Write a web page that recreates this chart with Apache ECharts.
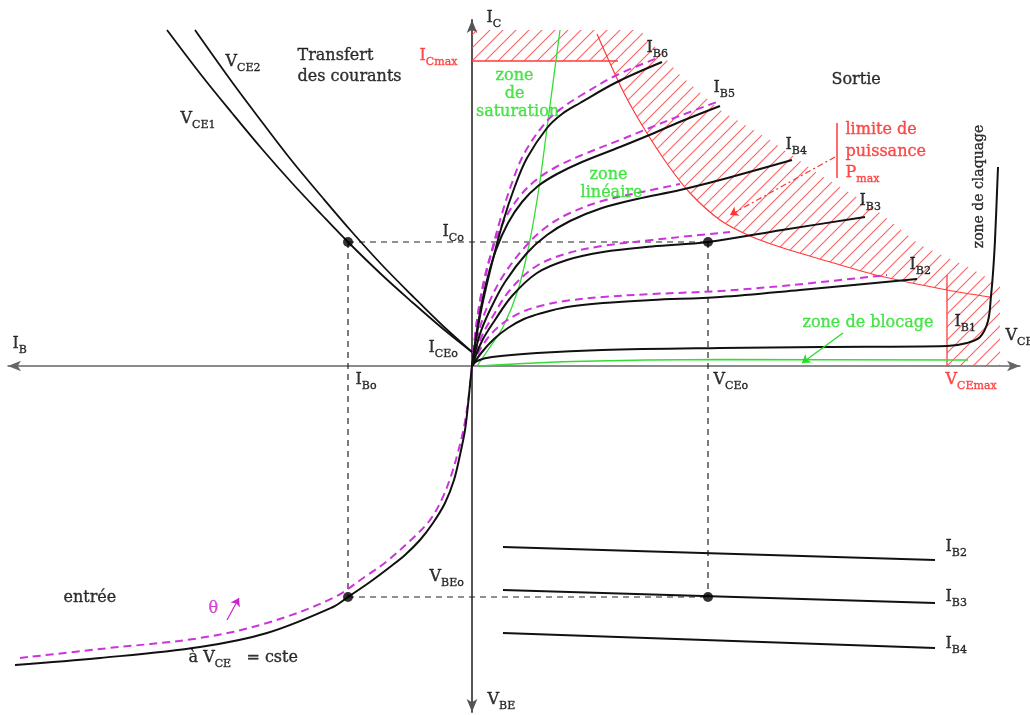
<!DOCTYPE html>
<html>
<head>
<meta charset="utf-8">
<script src="https://cdn.jsdelivr.net/npm/echarts@6/dist/echarts.min.js"></script>
<style>
  html, body { margin: 0; padding: 0; background: #fff; }
  #chart { width: 1030px; height: 715px; }
</style>
</head>
<body>
<div id="chart"></div>
<script>
// ---- Output quadrant: I_C versus V_CE for each base current ----
const ib1Out = [[0,0],[0.5,0.5],[2,0.9],[6.5,1.3],[13,1.6],[24.8,1.8],[35,1.9],[47.5,2.0],[49.5,2.3],[50.8,2.9],[51.6,4.5],[51.9,7],[52.1,9.3],[52.3,12.6],[52.6,19.9]];
const ib2Out = [[0,0],[1,1.4],[2.2,2.7],[3.6,3.8],[5.2,4.7],[7,5.3],[9.5,5.9],[13.1,6.3],[18,6.6],[24.8,6.9],[32.8,7.6],[44.5,8.7]];
const ib3Out = [[0,0],[1.0,2.5],[2.3,4.6],[4,7.0],[6.5,9.3],[9.5,10.6],[13.1,11.4],[18,11.95],[23.6,12.4],[31,13.6],[39.3,14.9]];
const ib4Out = [[0,0],[0.8,3.2],[1.8,5.6],[3.3,8.4],[5.5,11.3],[7.5,13.1],[9.8,14.5],[13,15.8],[16.5,16.7],[20.8,17.6],[24.8,18.6],[32,20.6]];
const ib5Out = [[0,0],[0.6,4.2],[1.4,8.2],[2.4,11.6],[3.6,14.3],[5.0,16.4],[6.6,18.0],[8.5,19.2],[11,20.4],[14.8,21.9],[17.5,23.0],[21,24.5],[24.8,26.0]];
const ib6Out = [[0,0],[0.8,5.0],[1.8,9.5],[3.1,14.4],[4.3,18.0],[5.5,20.8],[7.5,23.8],[9,25.2],[10.8,26.3],[14.5,28.4],[19.0,30.4]];

// Same characteristics at a higher temperature
const ib2Hot = [[0,0],[0.9,1.8],[2.0,3.3],[3.4,4.5],[5.0,5.4],[6.8,6.0],[9.3,6.5],[13.1,6.9],[18,7.2],[24.8,7.5],[32,8.1],[41.5,9.1]];
const ib3Hot = [[0,0],[0.9,2.8],[2.1,5.0],[3.8,7.6],[6.3,9.9],[9.3,11.2],[13,12.0],[18,12.6],[21.8,13.0],[25.8,13.4]];
const ib4Hot = [[0,0],[0.7,3.5],[1.6,6.1],[3.1,9.0],[5.3,11.9],[7.3,13.8],[9.6,15.2],[13,16.5],[17.5,17.5],[20.8,18.2]];
const ib5Hot = [[0,0],[0.5,4.5],[1.2,8.6],[2.2,12.1],[3.4,14.9],[4.8,17.0],[6.4,18.6],[8.4,19.9],[11,21.1],[14.8,22.6],[17.5,23.7],[21,25.1],[24.5,26.4]];
const ib6Hot = [[0,0],[0.6,5.3],[1.6,10.0],[2.9,14.9],[4.1,18.6],[5.3,21.4],[7.4,24.4],[9,25.8],[10.8,27.0],[14.5,29.1],[18.8,30.9]];

// ---- Transfer quadrant: I_C versus I_B ----
const vce1Transfer = [[-30.5,33.6],[-27,29.0],[-24,25.3],[-21,21.7],[-18,18.3],[-15,15.1],[-12.4,12.4],[-9,9.1],[-6,6.4],[-3,3.8],[0,1.4]];
const vce2Transfer = [[-27.7,33.6],[-24,28.4],[-21,24.4],[-18,20.5],[-15,16.9],[-12,13.4],[-9,10.1],[-6,7.05],[-3,4.1],[0,1.4]];

// ---- Input quadrant: I_B versus V_BE ----
const inputCurve = [[-45.7,-29.9],[-37.2,-29.2],[-27.2,-28.1],[-20.5,-26.7],[-13.9,-24.1],[-12.4,-23.1],[-10.2,-21.6],[-8.2,-20.1],[-6.7,-18.9],[-5.2,-17.4],[-3.9,-15.7],[-2.7,-13.7],[-1.8,-11.4],[-1.2,-8.9],[-0.7,-6.4],[-0.4,-3.9],[-0.2,-1.9],[0,0]];
const inputCurveHot = [[-45.2,-29.2],[-37.2,-28.3],[-27.2,-27.2],[-20.5,-25.7],[-13.9,-23.2],[-10.6,-21.0],[-8.6,-19.6],[-6.0,-17.3],[-4.2,-15.4],[-3.0,-13.3],[-2.1,-11.0],[-1.4,-8.6],[-0.8,-6.1],[-0.4,-3.6],[0,0]];

// ---- Reaction quadrant: V_BE versus V_CE ----
const ib2Vbe = [[3.1,-18.1],[46.3,-19.4]];
const ib3Vbe = [[3.1,-22.4],[46.3,-23.7]];
const ib4Vbe = [[3.1,-26.7],[46.3,-28.2]];

// ---- Limits ----
const iCmax = 30.5;
const vCEmax = 47.5;
const powerLimit = [[12.5,33.2],[13.7,30.5],[15.3,27.1],[17.3,23.6],[19.6,20.1],[21.8,17.3],[24.8,14.6],[27.8,13.0],[30.8,11.9],[35.8,10.4],[40.8,9.0],[47.5,7.6],[51.8,6.9]];
const forbiddenZone = [[0,33.6],[16.8,33.6],[20.8,29.1],[24.8,25.6],[29.8,22.6],[34.8,19.1],[39.8,16.1],[44.8,12.1],[49.8,9.8],[52.8,8.1],[52.8,0],[47.5,0],[47.5,7.6],[40.8,9.0],[35.8,10.4],[30.8,11.9],[27.8,13.0],[24.8,14.6],[21.8,17.3],[19.6,20.1],[17.3,23.6],[15.3,27.1],[13.7,30.5],[0,30.5]];
const saturationEdge = [[0.5,0],[1.6,1.6],[3.1,3.9],[4.6,7.6],[5.8,12.6],[6.8,18.5],[7.5,23.8],[8.8,33.6]];
const cutoffEdge = [[0.8,0],[10,0.45],[24.8,0.65],[49.6,0.6]];

// ---- Operating point ----
const iB0 = -12.4, iC0 = 12.4, vCE0 = 23.6, vBE0 = -23.1;

// ---- Text annotations: [x, y, rich text, colour, align, rotate, size] ----
const labels = [
  [1.5, 34.6, '{n|I}{s|C}', '#000', 'left'],
  [-5.2, 30.8, '{n|I}{s|Cmax}', '#ff2222', 'left'],
  [4.3, 29.0, 'zone', '#22dd22', 'center'],
  [4.3, 27.2, 'de', '#22dd22', 'center'],
  [4.6, 25.4, 'saturation', '#22dd22', 'center'],
  [13.7, 19.1, 'zone', '#22dd22', 'center'],
  [14.0, 17.3, 'linéaire', '#22dd22', 'center'],
  [-17.4, 31.0, 'Transfert', '#000', 'left'],
  [-17.4, 28.9, 'des courants', '#000', 'left'],
  [-24.6, 30.2, '{n|V}{s|CE2}', '#000', 'left'],
  [-29.1, 24.5, '{n|V}{s|CE1}', '#000', 'left'],
  [36.0, 28.6, 'Sortie', '#000', 'left'],
  [17.5, 31.6, '{n|I}{s|B6}', '#000', 'left'],
  [24.2, 27.6, '{n|I}{s|B5}', '#000', 'left'],
  [31.4, 21.9, '{n|I}{s|B4}', '#000', 'left'],
  [38.8, 16.3, '{n|I}{s|B3}', '#000', 'left'],
  [43.8, 9.9, '{n|I}{s|B2}', '#000', 'left'],
  [48.3, 4.2, '{n|I}{s|B1}', '#000', 'left'],
  [37.4, 23.6, 'limite de', '#ff2222', 'left'],
  [37.4, 21.4, 'puissance', '#ff2222', 'left'],
  [37.4, 19.1, '{n|P}{s|max}', '#ff2222', 'left'],
  [50.8, 17.9, 'zone de claquage', '#000', 'center', 90, 14],
  [33.1, 4.3, 'zone de blocage', '#22dd22', 'left'],
  [53.4, 2.8, '{n|V}{s|CE}', '#000', 'left'],
  [47.4, -1.6, '{n|V}{s|CEmax}', '#ff2222', 'left'],
  [-4.3, 1.6, '{n|I}{s|CEo}', '#000', 'left'],
  [-2.9, 13.2, '{n|I}{s|Co}', '#000', 'left'],
  [-11.6, -1.6, '{n|I}{s|Bo}', '#000', 'left'],
  [-45.9, 2.0, '{n|I}{s|B}', '#000', 'left'],
  [24.2, -1.6, '{n|V}{s|CEo}', '#000', 'left'],
  [-4.2, -21.3, '{n|V}{s|BEo}', '#000', 'left'],
  [1.6, -33.6, '{n|V}{s|BE}', '#000', 'left'],
  [-40.8, -23.2, 'entrée', '#000', 'left'],
  [-26.3, -24.3, 'θ', '#cc22cc', 'left'],
  [-28.3, -29.4, '{n|à V}{s|CE}{n|   = cste}', '#000', 'left'],
  [47.4, -18.3, '{n|I}{s|B2}', '#000', 'left'],
  [47.4, -23.3, '{n|I}{s|B3}', '#000', 'left'],
  [47.4, -28.0, '{n|I}{s|B4}', '#000', 'left']
];

// Annotation arrows: [from, to, colour, dash]
const arrows = [
  [[36.3, 20.9], [25.8, 15.1], '#ff3333', [6, 3, 2, 3]],
  [[37.1, 3.3], [33.0, 0.3], '#22dd22', 'solid'],
  [[-24.5, -25.4], [-23.3, -23.2], '#cc22cc', 'solid']
];

// Diagonal red hatching used for the forbidden operating area
function hatchPattern() {
  const s = 13;
  const c = document.createElement('canvas');
  c.width = s; c.height = s;
  const g = c.getContext('2d');
  g.strokeStyle = 'rgba(255,70,70,0.85)';
  g.lineWidth = 1.1;
  g.beginPath();
  g.moveTo(-1, s + 1); g.lineTo(s + 1, -1);
  g.moveTo(-1, 1); g.lineTo(1, -1);
  g.moveTo(s - 1, s + 1); g.lineTo(s + 1, s - 1);
  g.stroke();
  return c;
}

const FONT = 'DejaVu Serif';
const BLACK = '#111';
const MAGENTA = '#cc33dd';
const RED = '#ff3a3a';
const GREEN = '#33dd33';

function curve(data, color, width, type, smooth) {
  return {
    type: 'line', data: data, showSymbol: false, symbol: 'none',
    smooth: smooth || 0,
    lineStyle: { color: color, width: width, type: type || 'solid' },
    silent: true, z: 3
  };
}

const series = [];

// forbidden zone hatching
const pattern = hatchPattern();
series.push({
  type: 'custom', data: [[0, 0]], silent: true, z: 1,
  renderItem: function (params, api) {
    const pts = forbiddenZone.map(function (p) { return api.coord(p); });
    return { type: 'polygon', shape: { points: pts }, style: { fill: { image: pattern, repeat: 'repeat' }, stroke: null } };
  }
});

// limits
series.push(curve(powerLimit, RED, 1.2, 'solid', 0.3));
series.push(curve([[0, iCmax], [14.6, iCmax]], RED, 1.3));
series.push(curve([[vCEmax, 0], [vCEmax, 9.1]], RED, 1.3));
series.push(curve([[36.5, 18.8], [36.5, 24.3]], RED, 1.5));

// zone boundaries
series.push(curve(saturationEdge, GREEN, 1.3, 'solid', 0.3));
series.push(curve(cutoffEdge, GREEN, 1.5, 'solid', 0.3));

// operating point guides
const guide = { color: '#222', width: 1.2, type: [6, 5] };
[
  [[iB0, iC0], [vCE0, iC0]],
  [[iB0, iC0], [iB0, vBE0]],
  [[vCE0, iC0], [vCE0, vBE0]],
  [[iB0, vBE0], [vCE0, vBE0]]
].forEach(function (seg) {
  series.push({ type: 'line', data: seg, symbol: 'none', lineStyle: guide, silent: true, z: 2 });
});

// higher temperature curves
[ib2Hot, ib3Hot, ib4Hot, ib5Hot, ib6Hot].forEach(function (d) {
  series.push(curve(d, MAGENTA, 2, [8, 5], 0.35));
});
series.push(curve(inputCurveHot, MAGENTA, 2, [8, 5], 0.35));

// characteristics
[ib1Out, ib2Out, ib3Out, ib4Out, ib5Out, ib6Out].forEach(function (d) {
  series.push(curve(d, BLACK, 2, 'solid', 0.35));
});
series.push(curve(vce1Transfer, BLACK, 1.8, 'solid', 0.35));
series.push(curve(vce2Transfer, BLACK, 1.8, 'solid', 0.35));
series.push(curve(inputCurve, BLACK, 2, 'solid', 0.35));
[ib2Vbe, ib3Vbe, ib4Vbe].forEach(function (d) {
  series.push(curve(d, BLACK, 1.8));
});

// operating point in every quadrant
series.push({
  type: 'scatter', symbolSize: 10, silent: true, z: 5,
  itemStyle: { color: '#000' },
  data: [[iB0, iC0], [vCE0, iC0], [iB0, vBE0], [vCE0, vBE0]]
});

// annotation arrows
series.push({
  type: 'lines', coordinateSystem: 'cartesian2d', silent: true, z: 5,
  symbol: ['none', 'arrow'], symbolSize: 8,
  data: arrows.map(function (a) {
    return { coords: [a[0], a[1]], lineStyle: { color: a[2], type: a[3], width: 1.2, opacity: 1 } };
  })
});

// text
series.push({
  type: 'scatter', symbolSize: 1, silent: true, z: 6,
  itemStyle: { color: 'rgba(0,0,0,0)' },
  data: labels.map(function (l) {
    const size = l[6] || 16;
    const ink = { textBorderColor: l[3], textBorderWidth: 0.35 };
    return {
      value: [l[0], l[1]],
      label: Object.assign({
        show: true, position: [0, 0], formatter: l[2], color: l[3],
        align: l[4], verticalAlign: 'middle', rotate: l[5] || 0,
        fontFamily: FONT, fontSize: size,
        rich: {
          n: Object.assign({ fontFamily: FONT, fontSize: size, color: l[3], lineHeight: 20, verticalAlign: 'top' }, ink),
          s: Object.assign({ fontFamily: FONT, fontSize: 11, color: l[3], lineHeight: 14, verticalAlign: 'top', padding: [9, 0, 0, 0] }, ink)
        }
      }, ink)
    };
  })
});

const axisArrow = { show: true, onZero: true, symbol: ['arrow', 'arrow'], symbolSize: [8, 13] };

const chart = echarts.init(document.getElementById('chart'), null, { renderer: 'canvas' });
chart.setOption({
  animation: false,
  backgroundColor: '#fff',
  grid: { left: 8, right: 10, top: 20, bottom: 3, containLabel: false },
  xAxis: {
    type: 'value', min: -46.4, max: 54.8,
    axisLine: Object.assign({ lineStyle: { color: '#666', width: 1.5 } }, axisArrow),
    axisTick: { show: false }, axisLabel: { show: false }, splitLine: { show: false }
  },
  yAxis: {
    type: 'value', min: -34.6, max: 34.6,
    axisLine: Object.assign({ lineStyle: { color: '#555', width: 2 } }, axisArrow),
    axisTick: { show: false }, axisLabel: { show: false }, splitLine: { show: false }
  },
  series: series
});
</script>
</body>
</html>
